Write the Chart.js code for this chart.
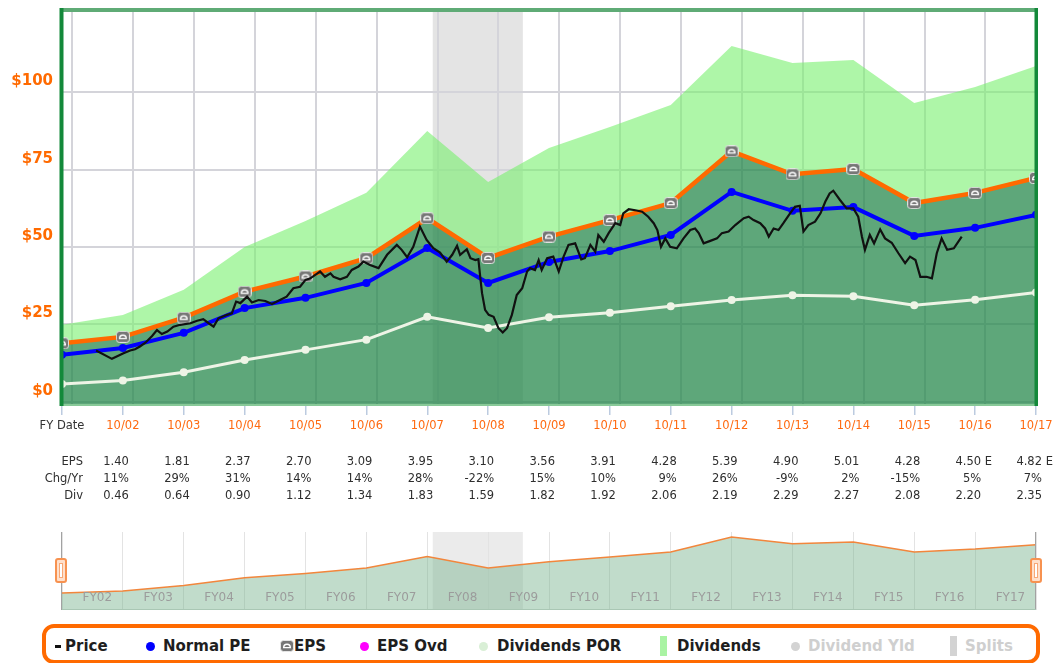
<!DOCTYPE html>
<html>
<head>
<meta charset="utf-8">
<script src="https://cdn.jsdelivr.net/npm/chart.js@4.4.1/dist/chart.umd.min.js"></script>
<style>
  body { margin: 0; background: #fff; width: 1054px; height: 663px; overflow: hidden; position: relative; font-family: "DejaVu Sans", sans-serif; }
  #main { position: absolute; left: 0; top: 0; }
  #nav { position: absolute; left: 0; top: 530px; }
  .handle { position: absolute; top: 558px; width: 8px; height: 21px; border: 2px solid #f79250; border-radius: 3px; background: #ffe0cb; }
  .handle i { position: absolute; left: 2px; top: 3px; width: 2px; height: 13px; border: 1px solid #f7a877; background: #fff; }
  #legend { position: absolute; left: 42px; top: 624px; width: 990px; height: 32px; border: 4px solid #ff6a00; border-radius: 12px; }
  .lg { position: absolute; top: 637px; font: bold 15px/18px "DejaVu Sans", sans-serif; color: #1e1e1e; white-space: nowrap; }
  .lg.off { color: #cfcfcf; }
  .dot { position: absolute; top: 642px; width: 9px; height: 9px; border-radius: 50%; }
  .bar { position: absolute; top: 636px; width: 7px; height: 20px; }
</style>
</head>
<body>
<canvas id="main" width="1054" height="515"></canvas>
<canvas id="nav" width="1054" height="82"></canvas>
<div class="handle" style="left:55px"><i></i></div>
<div class="handle" style="left:1030px"><i></i></div>

<div id="legend"></div>
<div style="position:absolute;left:55px;top:645px;width:6px;height:3px;background:#111"></div>
<span class="lg" style="left:65px">Price</span>
<div class="dot" style="left:146px;background:#0000ff"></div>
<span class="lg" style="left:163px">Normal PE</span>
<span id="lgEps"></span>
<span class="lg" style="left:294px">EPS</span>
<div class="dot" style="left:360px;background:#ff00ff"></div>
<span class="lg" style="left:377px">EPS Ovd</span>
<div class="dot" style="left:479px;background:#d9efd6"></div>
<span class="lg" style="left:497px">Dividends POR</span>
<div class="bar" style="left:660px;background:#a9f3a3"></div>
<span class="lg" style="left:677px">Dividends</span>
<div class="dot" style="left:791px;background:#d3d3d3"></div>
<span class="lg off" style="left:808px">Dividend Yld</span>
<div class="bar" style="left:950px;background:#d3d3d3"></div>
<span class="lg off" style="left:965px">Splits</span>

<script>
// fiscal year ends (decimal years) and their labels
const fyX = [2001.83, 2002.83, 2003.83, 2004.83, 2005.83, 2006.83, 2007.83, 2008.83, 2009.83,
  2010.83, 2011.83, 2012.83, 2013.83, 2014.83, 2015.83, 2016.83, 2017.83];
const fyLabels = ['FY Date', '10/02', '10/03', '10/04', '10/05', '10/06', '10/07', '10/08', '10/09',
  '10/10', '10/11', '10/12', '10/13', '10/14', '10/15', '10/16', '10/17'];
const gridYears = [2002, 2003, 2004, 2005, 2006, 2007, 2008, 2009, 2010, 2011, 2012, 2013, 2014, 2015, 2016, 2017];
const yTicks = [0, 25, 50, 75, 100];
const recession = [2007.92, 2009.4];

// series ($)
const divTop = [24.9, 28.1, 36.2, 50.0, 58.4, 67.5, 87.5, 71.0, 82.0, 88.8, 95.9, 114.9, 109.4, 110.4, 96.5, 101.7, 108.5];
const epsValue = [18.9, 21.0, 27.2, 35.6, 40.5, 46.4, 59.3, 46.5, 53.4, 58.7, 64.2, 80.9, 73.5, 75.2, 64.2, 67.5, 72.3];
const normalPE = [15.2, 17.4, 22.3, 30.3, 33.6, 38.4, 49.7, 38.4, 45.2, 48.7, 53.9, 67.8, 61.7, 62.9, 53.6, 56.2, 60.4];
const divPOR = [5.8, 6.9, 9.6, 13.5, 16.8, 20.1, 27.5, 23.9, 27.3, 28.8, 30.9, 32.9, 34.4, 34.1, 31.2, 33.0, 35.3];

const priceX = [2002.39, 2002.65, 2002.84, 2002.95, 2003.03, 2003.11, 2003.20, 2003.31, 2003.39, 2003.47,
  2003.56, 2003.66, 2003.77, 2003.94, 2004.05, 2004.15, 2004.24, 2004.32, 2004.40, 2004.54,
  2004.62, 2004.69, 2004.76, 2004.87, 2004.95, 2005.06, 2005.17, 2005.28, 2005.41, 2005.52,
  2005.63, 2005.74, 2005.83, 2005.91, 2005.99, 2006.07, 2006.15, 2006.24, 2006.29, 2006.40,
  2006.51, 2006.59, 2006.70, 2006.78, 2006.89, 2007.03, 2007.17, 2007.33, 2007.41, 2007.50,
  2007.60, 2007.71, 2007.82, 2007.93, 2008.04, 2008.15, 2008.24, 2008.32, 2008.37, 2008.48,
  2008.54, 2008.62, 2008.67, 2008.70, 2008.73, 2008.78, 2008.84, 2008.92, 2009.00, 2009.07,
  2009.14, 2009.22, 2009.30, 2009.39, 2009.47, 2009.52, 2009.60, 2009.66, 2009.71, 2009.80,
  2009.90, 2009.99, 2010.07, 2010.15, 2010.26, 2010.36, 2010.42, 2010.51, 2010.59, 2010.64,
  2010.73, 2010.81, 2010.92, 2011.00, 2011.05, 2011.14, 2011.27, 2011.36, 2011.46, 2011.55,
  2011.61, 2011.67, 2011.74, 2011.82, 2011.93, 2012.04, 2012.15, 2012.23, 2012.29, 2012.37,
  2012.48, 2012.59, 2012.67, 2012.78, 2012.89, 2013.03, 2013.11, 2013.19, 2013.30, 2013.38,
  2013.44, 2013.52, 2013.60, 2013.68, 2013.79, 2013.87, 2013.95, 2014.01, 2014.09, 2014.20,
  2014.29, 2014.37, 2014.44, 2014.50, 2014.61, 2014.72, 2014.83, 2014.91, 2014.97, 2015.02,
  2015.10, 2015.17, 2015.27, 2015.35, 2015.46, 2015.57, 2015.68, 2015.76, 2015.85, 2015.93,
  2016.03, 2016.12, 2016.20, 2016.28, 2016.37, 2016.48, 2016.61];
const priceY = [16.6, 13.9, 15.7, 16.6, 17.0, 17.9, 19.1, 21.3, 23.2, 21.9,
  22.7, 24.3, 24.9, 25.4, 26.2, 26.7, 25.4, 24.3, 27.0, 28.1,
  28.6, 32.4, 31.9, 34.0, 32.1, 32.9, 32.6, 31.6, 32.9, 34.0,
  36.7, 37.2, 39.4, 39.9, 41.0, 42.1, 40.4, 41.5, 40.4, 39.6,
  40.4, 42.6, 43.7, 45.3, 44.2, 43.2, 47.5, 50.7, 49.1, 46.7,
  50.1, 56.6, 52.3, 49.6, 48.2, 45.3, 47.5, 50.4, 47.5, 49.3,
  46.4, 45.8, 46.1, 40.4, 35.1, 29.7, 28.1, 27.5, 23.8, 22.4,
  23.8, 28.1, 34.5, 36.7, 42.1, 43.2, 42.6, 45.8, 42.6, 46.4,
  46.9, 42.1, 46.9, 50.7, 51.2, 46.0, 46.4, 50.7, 48.5, 53.9,
  51.7, 54.5, 57.7, 57.1, 60.9, 62.2, 61.8, 61.4, 59.8, 57.7,
  55.5, 50.1, 52.8, 50.1, 49.6, 52.8, 55.5, 56.0, 54.5, 51.2,
  52.0, 52.8, 54.5, 55.0, 57.1, 59.3, 59.8, 58.7, 57.7, 56.0,
  53.4, 56.0, 55.5, 57.7, 60.9, 63.0, 63.3, 55.0, 57.1, 58.2,
  60.9, 64.7, 67.3, 68.2, 65.2, 62.5, 62.5, 59.8, 53.4, 49.1,
  53.9, 51.2, 55.7, 52.8, 51.4, 48.0, 44.8, 46.9, 45.8, 40.4,
  40.4, 39.9, 48.0, 52.8, 49.1, 49.6, 53.4];

// table under the chart
const tableEps = ['1.40', '1.81', '2.37', '2.70', '3.09', '3.95', '3.10', '3.56', '3.91', '4.28', '5.39', '4.90', '5.01', '4.28', '4.50 E', '4.82 E'];
const tableChg = ['11%', '29%', '31%', '14%', '14%', '28%', '-22%', '15%', '10%', '9%', '26%', '-9%', '2%', '-15%', '5%', '7%'];
const tableDiv = ['0.46', '0.64', '0.90', '1.12', '1.34', '1.83', '1.59', '1.82', '1.92', '2.06', '2.19', '2.29', '2.27', '2.08', '2.20', '2.35'];

// navigator labels
const navLabelX = [2002.41, 2003.41, 2004.41, 2005.41, 2006.41, 2007.41, 2008.41, 2009.41,
  2010.41, 2011.41, 2012.41, 2013.41, 2014.41, 2015.41, 2016.41, 2017.41];
const navLabels = ['FY02', 'FY03', 'FY04', 'FY05', 'FY06', 'FY07', 'FY08', 'FY09',
  'FY10', 'FY11', 'FY12', 'FY13', 'FY14', 'FY15', 'FY16', 'FY17'];

const pts = (xs, ys) => xs.map((x, i) => ({ x: x, y: ys[i] }));

function makeEpsIcon() {
  const c = document.createElement('canvas');
  c.width = 14; c.height = 12;
  const g = c.getContext('2d');
  g.fillStyle = '#767676';
  g.strokeStyle = 'rgba(235,235,235,0.9)';
  g.lineWidth = 1;
  g.beginPath(); g.roundRect(0.5, 0.5, 13, 11, 3); g.fill(); g.stroke();
  g.strokeStyle = '#fff'; g.lineWidth = 1.4;
  g.beginPath(); g.arc(7, 7.6, 3.3, Math.PI, 0); g.closePath(); g.stroke();
  return c;
}

const legendIcon = makeEpsIcon();
legendIcon.style.cssText = 'position:absolute;left:280px;top:640px';
document.getElementById('lgEps').appendChild(legendIcon);

const shadeMain = {
  id: 'shadeMain',
  beforeDraw(chart) {
    const { ctx, chartArea: a, scales } = chart;
    const x0 = scales.x.getPixelForValue(recession[0]);
    const x1 = scales.x.getPixelForValue(recession[1]);
    ctx.save();
    ctx.fillStyle = '#e4e4e4';
    ctx.fillRect(x0, a.top, x1 - x0, a.bottom - a.top);
    ctx.restore();
  }
};

const frameMain = {
  id: 'frameMain',
  afterDraw(chart) {
    const { ctx, chartArea: a } = chart;
    ctx.save();
    ctx.fillStyle = '#88c998';
    ctx.fillRect(a.left, a.bottom - 1, a.right - a.left, 2);
    ctx.fillStyle = '#5fab76';
    ctx.fillRect(a.left - 2, a.top - 4, a.right - a.left + 4, 4);
    ctx.fillStyle = '#13893a';
    ctx.fillRect(a.left - 2.5, a.top - 4, 4, a.bottom - a.top + 5);
    ctx.fillRect(a.right - 1.5, a.top - 4, 3.5, a.bottom - a.top + 5);
    ctx.restore();
  }
};

const tablePlugin = {
  id: 'tablePlugin',
  afterDraw(chart) {
    const ctx = chart.ctx, xs = chart.scales.x;
    const rowY = [462, 479, 496];
    const rows = [['EPS', tableEps], ['Chg/Yr', tableChg], ['Div', tableDiv]];
    ctx.save();
    ctx.font = '11.5px "DejaVu Sans"';
    ctx.fillStyle = '#2e2e2e';
    ctx.textBaseline = 'middle';
    rows.forEach(([name, vals], r) => {
      ctx.textAlign = 'right';
      ctx.fillText(name, xs.getPixelForValue(fyX[0]) + 21, rowY[r]);
      vals.forEach((v, i) => {
        const x = xs.getPixelForValue(fyX[i + 1]) + 6;
        const parts = v.split(' ');
        ctx.textAlign = 'right';
        ctx.fillText(parts[0], x, rowY[r]);
        if (parts[1]) {
          ctx.textAlign = 'left';
          ctx.fillText(' ' + parts[1], x, rowY[r]);
        }
      });
    });
    ctx.restore();
  }
};

new Chart(document.getElementById('main'), {
  type: 'line',
  data: {
    datasets: [
      { label: 'Price', data: pts(priceX, priceY), borderColor: '#111', borderWidth: 2.2, pointRadius: 0, order: 0 },
      { label: 'Normal PE', data: pts(fyX, normalPE), borderColor: '#0000ff', backgroundColor: '#0000ff', borderWidth: 4, pointRadius: 4, pointBorderWidth: 0, order: 1 },
      { label: 'EPS', data: pts(fyX, epsValue), borderColor: '#ff6a00', borderWidth: 4.5, fill: 'start', backgroundColor: 'rgba(40,138,78,0.75)', pointStyle: makeEpsIcon(), pointRadius: 6, order: 3 },
      { label: 'Dividends POR', data: pts(fyX, divPOR), borderColor: '#eef4e6', backgroundColor: '#eef4e6', borderWidth: 3, pointRadius: 4, pointBorderWidth: 0, order: 2 },
      { label: 'Dividends', data: pts(fyX, divTop), borderWidth: 0, pointRadius: 0, fill: 2, backgroundColor: 'rgba(120,240,110,0.6)', order: 4 }
    ]
  },
  options: {
    responsive: false,
    animation: false,
    events: [],
    layout: { padding: { left: 0, right: 18, top: 12, bottom: 0 } },
    plugins: { legend: { display: false }, tooltip: { enabled: false } },
    scales: {
      x: {
        type: 'linear', min: fyX[0], max: fyX[fyX.length - 1],
        afterBuildTicks: s => { s.ticks = fyX.map(v => ({ value: v })); },
        afterFit: s => { s.height = 110; s.paddingLeft = 0; s.paddingRight = 0; },
        grid: { drawOnChartArea: false, drawTicks: true, tickLength: 10, color: '#bccbe0', lineWidth: 1.5 },
        border: { display: false },
        ticks: {
          autoSkip: false, maxRotation: 0, padding: 4,
          font: { family: 'DejaVu Sans', size: 11.5 },
          color: c => c.index === 0 ? '#333' : '#ff6a10',
          callback: (v, i) => fyLabels[i]
        }
      },
      xg: {
        type: 'linear', position: 'bottom', min: fyX[0], max: fyX[fyX.length - 1],
        afterBuildTicks: s => { s.ticks = gridYears.map(v => ({ value: v })); },
        afterFit: s => { s.height = 0; s.paddingLeft = 0; s.paddingRight = 0; },
        grid: { color: '#d4d4da', lineWidth: 2, drawTicks: false },
        border: { display: false },
        ticks: { display: false }
      },
      y: {
        min: -1, max: 125.9,
        afterBuildTicks: s => { s.ticks = yTicks.map(v => ({ value: v })); },
        afterFit: s => { s.width = 62; s.paddingTop = 0; s.paddingBottom = 0; },
        grid: { color: '#d4d4da', lineWidth: 2, drawTicks: false },
        border: { display: false },
        ticks: {
          padding: 9, labelOffset: -11,
          font: { family: 'DejaVu Sans', size: 15, weight: 'bold' },
          color: '#ff6a00',
          callback: v => '$' + v
        }
      }
    }
  },
  plugins: [shadeMain, frameMain, tablePlugin]
});

const shadeNav = {
  id: 'shadeNav',
  beforeDraw(chart) {
    const { ctx, chartArea: a, scales } = chart;
    const x0 = scales.x.getPixelForValue(recession[0]);
    const x1 = scales.x.getPixelForValue(recession[1]);
    ctx.save();
    ctx.fillStyle = '#ebebeb';
    ctx.fillRect(x0, a.top, x1 - x0, a.bottom - a.top);
    ctx.restore();
  }
};

const frameNav = {
  id: 'frameNav',
  afterDraw(chart) {
    const { ctx, chartArea: a } = chart;
    ctx.save();
    ctx.fillStyle = '#a2a2a2';
    ctx.fillRect(a.left - 1, a.top, 1, a.bottom - a.top);
    ctx.fillRect(a.right - 1, a.top, 1, a.bottom - a.top);
    ctx.fillStyle = '#a9c7b4';
    ctx.fillRect(a.left, a.bottom - 1, a.right - a.left, 1);
    ctx.restore();
  }
};

new Chart(document.getElementById('nav'), {
  type: 'line',
  data: {
    datasets: [
      { data: pts(fyX, epsValue), borderColor: '#f2863c', borderWidth: 1.5, pointRadius: 0, fill: 'start', backgroundColor: 'rgba(117,177,139,0.45)' }
    ]
  },
  options: {
    responsive: false,
    animation: false,
    events: [],
    layout: { padding: { left: 62, right: 18, top: 2, bottom: 2 } },
    plugins: { legend: { display: false }, tooltip: { enabled: false } },
    scales: {
      x: {
        type: 'linear', min: fyX[0], max: fyX[fyX.length - 1],
        afterBuildTicks: s => { s.ticks = fyX.map(v => ({ value: v })); },
        afterFit: s => { s.height = 0; s.paddingLeft = 0; s.paddingRight = 0; },
        grid: { color: '#e3e3e3', lineWidth: 1, drawTicks: false },
        border: { display: false },
        ticks: { display: false }
      },
      xl: {
        type: 'linear', position: 'bottom', min: fyX[0], max: fyX[fyX.length - 1],
        afterBuildTicks: s => { s.ticks = navLabelX.map(v => ({ value: v })); },
        afterFit: s => { s.height = 0; s.paddingLeft = 0; s.paddingRight = 0; },
        grid: { display: false, drawTicks: false },
        border: { display: false },
        ticks: {
          autoSkip: false, maxRotation: 0, mirror: true, padding: 5, z: 1,
          color: '#9c9c9c',
          font: { family: 'DejaVu Sans', size: 12 },
          callback: (v, i) => navLabels[i]
        }
      },
      y: { display: false, min: 0, max: 86.4 }
    }
  },
  plugins: [shadeNav, frameNav]
});
</script>
</body>
</html>
